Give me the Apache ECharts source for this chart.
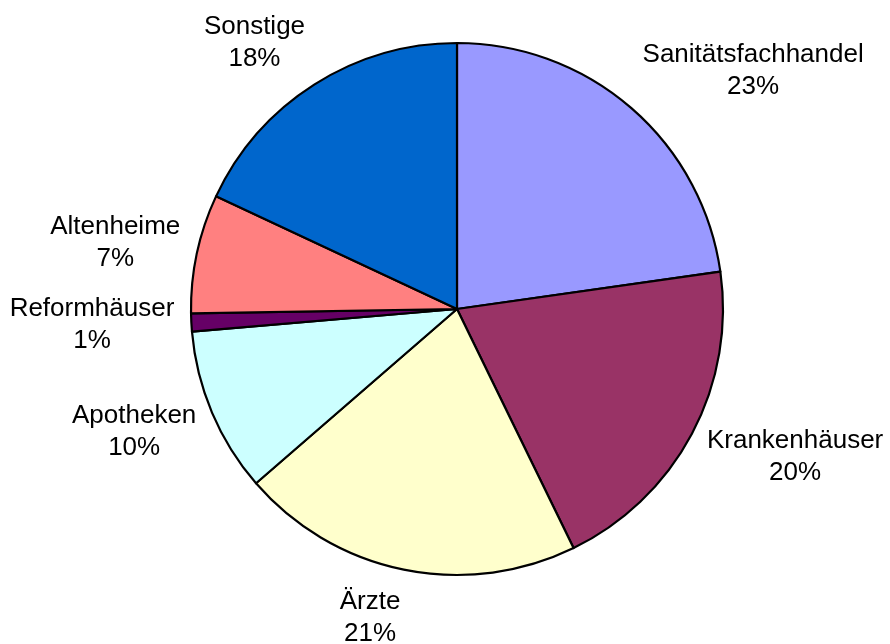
<!DOCTYPE html>
<html><head><meta charset="utf-8">
<script src="https://cdn.jsdelivr.net/npm/echarts@6/dist/echarts.min.js"></script>
<style>html,body{margin:0;padding:0;background:#fff}#c{width:890px;height:644px}</style>
</head><body><div id="c"></div>
<script>
const categories = ['Sanitätsfachhandel','Krankenhäuser','Ärzte','Apotheken','Reformhäuser','Altenheime','Sonstige'];
const values = [22.76, 20.02, 20.85, 10.01, 1.10, 7.22, 18.04];
const colors = ['#9999FF','#993366','#FFFFCC','#CCFFFF','#660066','#FF8080','#0066CC'];

const CX = 457, CY = 309, R = 266, GAP = 17;
const total = values.reduce((a, b) => a + b, 0);
const mids = [];
let acc = 0;
values.forEach(v => { mids.push((acc + v / 2) / total * 2 * Math.PI); acc += v; });

const chart = echarts.init(document.getElementById('c'), null, {renderer: 'canvas'});
chart.setOption({
  animation: false,
  series: [{
    type: 'pie',
    center: [CX, CY],
    radius: R,
    startAngle: 90,
    clockwise: true,
    percentPrecision: 0,
    avoidLabelOverlap: false,
    data: categories.map((n, i) => ({name: n, value: values[i], itemStyle: {color: colors[i]}})),
    itemStyle: {borderColor: '#000', borderWidth: 2.2},
    emphasis: {disabled: true},
    label: {
      show: true, position: 'outside', formatter: '{b}\n{d}%',
      fontFamily: 'Liberation Sans, Arial, sans-serif', fontSize: 26, lineHeight: 32,
      color: '#000', align: 'center'
    },
    labelLine: {show: false},
    labelLayout: function (p) {
      const a = mids[p.dataIndex];
      const ux = Math.sin(a), uy = -Math.cos(a);
      const w = p.labelRect.width / 2, h = p.labelRect.height / 2;
      const k = Math.max(-1, Math.min(1, 5 * ux));
      return {
        x: CX + (R + GAP) * ux + w * k,
        y: CY + (R + GAP) * uy + h * uy,
        align: 'center', verticalAlign: 'middle'
      };
    }
  }]
});
</script>
</body></html>
